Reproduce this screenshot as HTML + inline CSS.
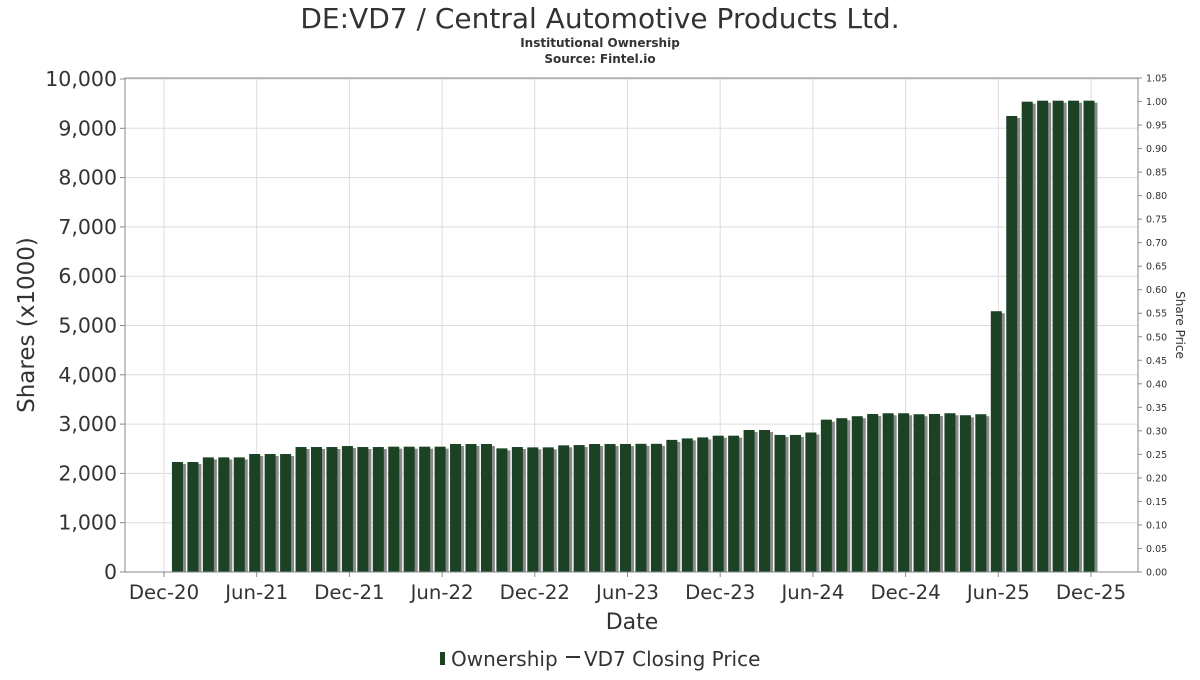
<!DOCTYPE html>
<html><head><meta charset="utf-8"><style>
body{margin:0;background:#fff;}
svg text{font-family:"DejaVu Sans","Liberation Sans",sans-serif;fill:#333;}
</style></head><body>
<svg id="c" width="1200" height="675" xmlns="http://www.w3.org/2000/svg">
<text x="600" y="28" text-anchor="middle" font-size="28">DE:VD7 / Central Automotive Products Ltd.</text>
<text x="600" y="47" text-anchor="middle" font-size="12" font-weight="bold">Institutional Ownership</text>
<text x="600" y="63" text-anchor="middle" font-size="12" font-weight="bold">Source: Fintel.io</text>
<g id="grid"></g><g id="bars"></g><g id="axes"></g>
<text x="0" y="0" transform="translate(34,325) rotate(-90)" text-anchor="middle" font-size="23">Shares (x1000)</text>
<text x="0" y="0" transform="translate(1176,325) rotate(90)" text-anchor="middle" font-size="12">Share Price</text>
<text x="632" y="629" text-anchor="middle" font-size="22">Date</text>
<g>
<rect x="440" y="652" width="5" height="13" fill="#1a4223"></rect>
<text x="451" y="666" font-size="20">Ownership</text>
<line x1="566" y1="657" x2="580" y2="657" stroke="#333" stroke-width="2"></line>
<text x="584" y="666" font-size="20">VD7 Closing Price</text>
</g>
</svg>
<script>
const shares=[2231,2231,2325,2325,2325,2393,2393,2393,2535,2535,2535,2555,2535,2535,2542,2542,2542,2542,2596,2596,2596,2508,2535,2528,2528,2569,2575,2596,2596,2596,2600,2600,2680,2710,2730,2765,2765,2880,2880,2780,2780,2830,3090,3120,3160,3205,3220,3220,3200,3205,3220,3180,3200,5290,9250,9540,9560,9560,9560,9560];
const xTickLabels=["Dec-20","Jun-21","Dec-21","Jun-22","Dec-22","Jun-23","Dec-23","Jun-24","Dec-24","Jun-25","Dec-25"];
const yTicks=[0,1000,2000,3000,4000,5000,6000,7000,8000,9000,10000];
const y2Ticks=[0,0.05,0.10,0.15,0.20,0.25,0.30,0.35,0.40,0.45,0.50,0.55,0.60,0.65,0.70,0.75,0.80,0.85,0.90,0.95,1.00,1.05];
const NS="http://www.w3.org/2000/svg";
const L=125,R=1138,T=78,B=572;
const xm=m=>164+15.45*m;
const y=v=>B-(v/10000)*(B-79);
const y2=v=>B-(v/1.05)*(B-T);
function mk(t,a,p){const e=document.createElementNS(NS,t);for(const k in a)e.setAttribute(k,a[k]);p.appendChild(e);return e;}
const grid=document.getElementById('grid'),bars=document.getElementById('bars'),axes=document.getElementById('axes');
mk('rect',{x:L,y:T,width:R-L,height:B-T,fill:'#fff',stroke:'none'},grid);
yTicks.forEach(v=>{
 const g=mk('line',{x1:L,x2:R,y1:y(v),y2:y(v),stroke:'#ddd','stroke-width':1},grid);
 
 
 mk('line',{x1:L-5,x2:L,y1:y(v),y2:y(v),stroke:'#888'},axes);
 const t=mk('text',{x:L-8,y:y(v)+7,'text-anchor':'end','font-size':20.5},axes);
 t.textContent=v.toLocaleString('en-US');
 
 
});
xTickLabels.forEach((s,i)=>{
 const x=xm(i*6);
 const g=mk('line',{x1:x,x2:x,y1:T,y2:B,stroke:'#ddd','stroke-width':1},grid);
 
 
 mk('line',{x1:x,x2:x,y1:B,y2:B+5,stroke:'#888'},axes);
 const t=mk('text',{x:x,y:B+27,'text-anchor':'middle','font-size':19.7},axes);
 t.textContent=s;
 
 
});
y2Ticks.forEach(v=>{
 mk('line',{x1:R,x2:R+4,y1:y2(v),y2:y2(v),stroke:'#888'},axes);
 const t=mk('text',{x:R+8,y:y2(v)+3.5,'font-size':9.5},axes);
 t.textContent=v.toFixed(2);
 
 
});
shares.forEach((v,i)=>{
 const x=xm(i+1)-7.5;
 const s=mk('rect',{x:x+3,y:y(v)+2,width:11,height:B-y(v)-2,fill:'#8a8a8a'},bars);
 
 
 const b=mk('rect',{x:x,y:y(v),width:11,height:B-y(v),fill:'#1a4223'},bars);
 
 
});
mk('rect',{x:L,y:T,width:R-L,height:B-T,fill:'none',stroke:'#888'},axes);
</script>
</body></html>
